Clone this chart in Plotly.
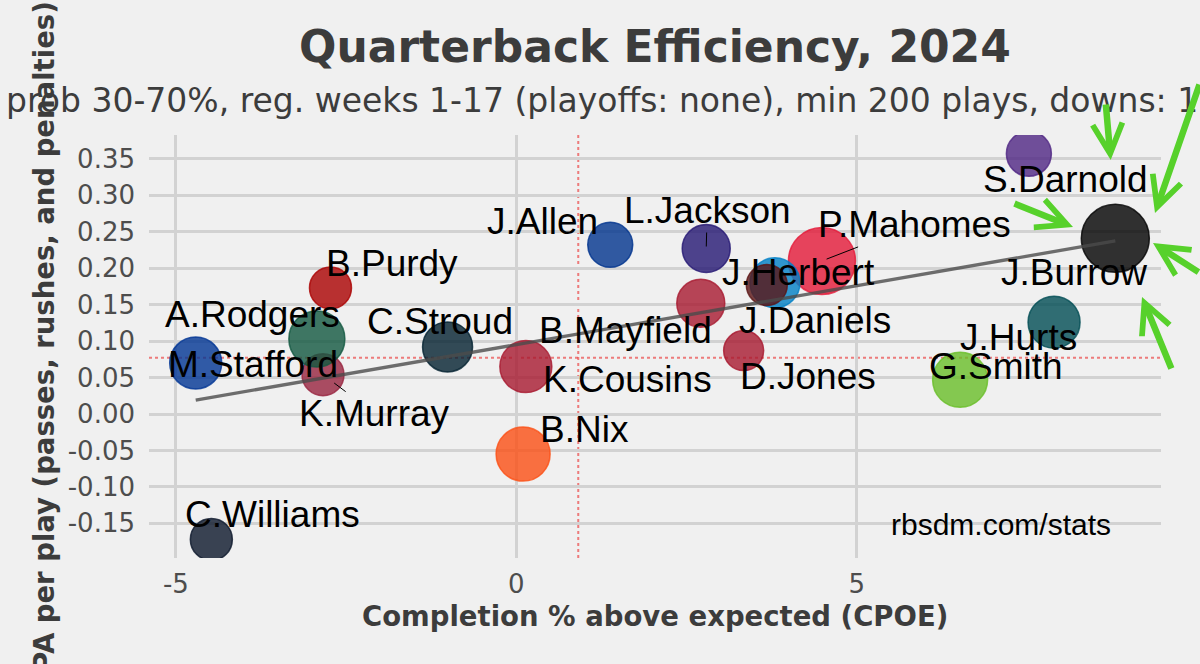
import numpy as np
import plotly.graph_objects as go

# ---------------- data ----------------
players = ["S.Darnold", "J.Burrow", "J.Allen", "L.Jackson", "P.Mahomes", "J.Herbert",
           "J.Daniels", "B.Mayfield", "D.Jones", "J.Hurts", "G.Smith", "B.Nix",
           "K.Cousins", "C.Stroud", "K.Murray", "A.Rodgers", "B.Purdy", "M.Stafford",
           "C.Williams"]
cpoe = [7.53, 8.80, 1.38, 2.79, 4.49, 3.80, 3.68, 2.71, 3.34, 7.90, 6.52, 0.10,
        0.14, -1.01, -2.84, -2.93, -2.73, -4.71, -4.48]
epa = [0.357, 0.241, 0.232, 0.227, 0.210, 0.180, 0.177, 0.152, 0.087, 0.126, 0.047,
       -0.055, 0.065, 0.092, 0.054, 0.103, 0.173, 0.070, -0.172]
plays_bubble = [45, 68, 45, 48, 67, 50, 41, 48, 40, 52, 55, 54, 52, 50, 42, 56, 42, 52, 42]
team_colors = ["#4F2683", "#000000", "#00338D", "#241773", "#E31837", "#0080C6",
               "#5A1414", "#A71930", "#A71930", "#004C54", "#69BE28", "#FB4F14",
               "#A71930", "#03202F", "#97233F", "#125740", "#AA0000", "#003594",
               "#0B162A"]
league_avg_cpoe = 0.91
league_avg_epa = 0.077
x_tick_vals = [-5, 0, 5]
x_tick_text = ["-5", "0", "5"]
y_tick_vals = [-0.15, -0.10, -0.05, 0.00, 0.05, 0.10, 0.15, 0.20, 0.25, 0.30, 0.35]
y_tick_text = ["-0.15", "-0.10", "-0.05", "0.00", "0.05", "0.10", "0.15", "0.20",
               "0.25", "0.30", "0.35"]

title_text = "Quarterback Efficiency, 2024"
subtitle_text = "prob 30-70%, reg. weeks 1-17 (playoffs: none), min 200 plays, downs: 1"
x_title = "Completion % above expected (CPOE)"
y_title = "EPA per play (passes, rushes, and penalties)"
credit = "rbsdm.com/stats"

# ---------------- layout helpers ----------------
W, H = 1200, 664
ML, MR, MT, MB = 149, 39, 135, 106
PW, PH = W - ML - MR, H - MT - MB


def px_to_paper(px, py):
    return (px - ML) / PW, (H - MB - py) / PH


def rgba(hex_color, a):
    h = hex_color.lstrip("#")
    r, g, b = int(h[0:2], 16), int(h[2:4], 16), int(h[4:6], 16)
    return f"rgba({r},{g},{b},{a})"


# label offsets in pixels (dx right, dy down), segment flag, standoff
LABEL_POS = {
    "S.Darnold": (37, 26, False, 0),
    "J.Burrow": (-41, 34, False, 0),
    "J.Allen": (-68, -23, False, 0),
    "L.Jackson": (1, -38, True, 2),
    "P.Mahomes": (93, -36, True, 5),
    "J.Herbert": (24, -10, False, 0),
    "J.Daniels": (48, 36, False, 0),
    "B.Mayfield": (-75, 27, False, 0),
    "D.Jones": (64, 26, False, 0),
    "J.Hurts": (-36, 15, False, 0),
    "G.Smith": (36, -13, False, 0),
    "B.Nix": (61, -25, False, 0),
    "K.Cousins": (102, 13, False, 0),
    "C.Stroud": (-8, -25, False, 0),
    "K.Murray": (52, 39, True, 14),
    "A.Rodgers": (-64, -24, False, 0),
    "B.Purdy": (62, -24, False, 0),
    "M.Stafford": (57, 2, False, 0),
    "C.Williams": (61, -25, False, 0),
}

fig = go.Figure()

# bubbles
fig.add_trace(go.Scatter(
    x=cpoe, y=epa, mode="markers",
    marker=dict(size=plays_bubble, sizemode="diameter", opacity=1,
                color=[rgba(c, 0.8) for c in team_colors],
                line=dict(color=[rgba(c, 0.8) for c in team_colors], width=1.5)),
    hoverinfo="skip", showlegend=False, cliponaxis=True,
))

# regression line (OLS)
slope, intercept = np.polyfit(np.array(cpoe), np.array(epa), 1)
xl = np.array([min(cpoe), max(cpoe)])
fig.add_trace(go.Scatter(
    x=xl, y=slope * xl + intercept, mode="lines",
    line=dict(color="rgba(75,75,75,0.8)", width=3.3),
    hoverinfo="skip", showlegend=False,
))

annotations = []
label_font = dict(family="Liberation Sans, Arial, sans-serif", size=37, color="black")
for name, xv, yv in zip(players, cpoe, epa):
    dx, dy, seg, so = LABEL_POS[name]
    if seg:
        annotations.append(dict(x=xv, y=yv, xref="x", yref="y", text=name,
                                showarrow=True, ax=dx, ay=dy, arrowhead=0,
                                arrowwidth=1, arrowcolor="black", standoff=so,
                                font=label_font))
    else:
        annotations.append(dict(x=xv, y=yv, xref="x", yref="y", text=name,
                                showarrow=False, xshift=dx, yshift=-dy,
                                xanchor="center", yanchor="middle", font=label_font))

title_color = "#3C3C3C"
px_, py_ = px_to_paper(655, 47)
annotations.append(dict(x=0.5, y=py_, xref="paper", yref="paper", text=title_text,
                        showarrow=False, xanchor="center", yanchor="middle",
                        font=dict(family="DejaVu Sans", size=44, color=title_color,
                                  weight="bold")))
px_, py_ = px_to_paper(4, 100)
annotations.append(dict(x=px_, y=py_, xref="paper", yref="paper", text=subtitle_text,
                        showarrow=False, xanchor="left", yanchor="middle",
                        font=dict(family="DejaVu Sans", size=33, color=title_color)))
px_, py_ = px_to_paper(655, 616)
annotations.append(dict(x=0.5, y=py_, xref="paper", yref="paper", text=x_title,
                        showarrow=False, xanchor="center", yanchor="middle",
                        font=dict(family="DejaVu Sans", size=27.5, color=title_color,
                                  weight="bold")))
px_, py_ = px_to_paper(43, 346.5)
annotations.append(dict(x=px_, y=py_, xref="paper", yref="paper", text=y_title,
                        showarrow=False, xanchor="center", yanchor="middle",
                        textangle=-90,
                        font=dict(family="DejaVu Sans", size=27.5, color=title_color,
                                  weight="bold")))
px_, py_ = px_to_paper(1001, 524)
annotations.append(dict(x=px_, y=py_, xref="paper", yref="paper", text=credit,
                        showarrow=False, xanchor="center", yanchor="middle",
                        font=dict(family="Liberation Sans, Arial, sans-serif",
                                  size=30, color="black")))

# hand-drawn green arrows (tip pixel, tail offset)
green_arrows = [((1110.7, 160), (-5, -57)),
                ((1155, 213), (48, -130)),
                ((1073, 227), (-60, -24)),
                ((1153, 243), (52, 30)),
                ((1142, 297), (30, 73))]
for (tx, ty), (ax, ay) in green_arrows:
    px_, py_ = px_to_paper(tx, ty)
    annotations.append(dict(x=px_, y=py_, xref="paper", yref="paper", text="",
                            showarrow=True, ax=ax, ay=ay, arrowhead=5,
                            arrowsize=0.9, arrowwidth=6.5, arrowcolor="#57D12B"))

shapes = [
    dict(type="line", xref="x", yref="paper", x0=league_avg_cpoe, x1=league_avg_cpoe,
         y0=0, y1=1, line=dict(color="rgba(235,60,60,0.65)", width=2, dash="dot"),
         layer="between"),
    dict(type="line", xref="paper", yref="y", x0=0, x1=1, y0=league_avg_epa,
         y1=league_avg_epa, line=dict(color="rgba(235,60,60,0.65)", width=2, dash="dot"),
         layer="between"),
]

tick_font = dict(family="DejaVu Sans", size=26, color="#4D4D4D")
fig.update_layout(
    width=W, height=H, autosize=False,
    margin=dict(l=ML, r=MR, t=MT, b=MB, pad=0),
    paper_bgcolor="#F0F0F0", plot_bgcolor="#F0F0F0",
    showlegend=False, annotations=annotations, shapes=shapes,
    hovermode=False,
)
fig.update_xaxes(range=[-5.396, 9.471], tickmode="array", tickvals=x_tick_vals,
                 ticktext=x_tick_text, showgrid=True, gridcolor="#D2D2D2",
                 gridwidth=3.3, zeroline=False, showline=False, ticks="",
                 tickfont=tick_font, ticklabelstandoff=8, fixedrange=True)
fig.update_yaxes(range=[-0.1975, 0.3827], tickmode="array", tickvals=y_tick_vals,
                 ticktext=y_tick_text, showgrid=True, gridcolor="#D2D2D2",
                 gridwidth=3.3, zeroline=False, showline=False, ticks="",
                 tickfont=tick_font, ticklabelstandoff=13, fixedrange=True)

fig.write_html("out.html", config={"displayModeBar": False},
               post_script="document.body.style.margin='0';document.body.style.overflow='hidden';")
